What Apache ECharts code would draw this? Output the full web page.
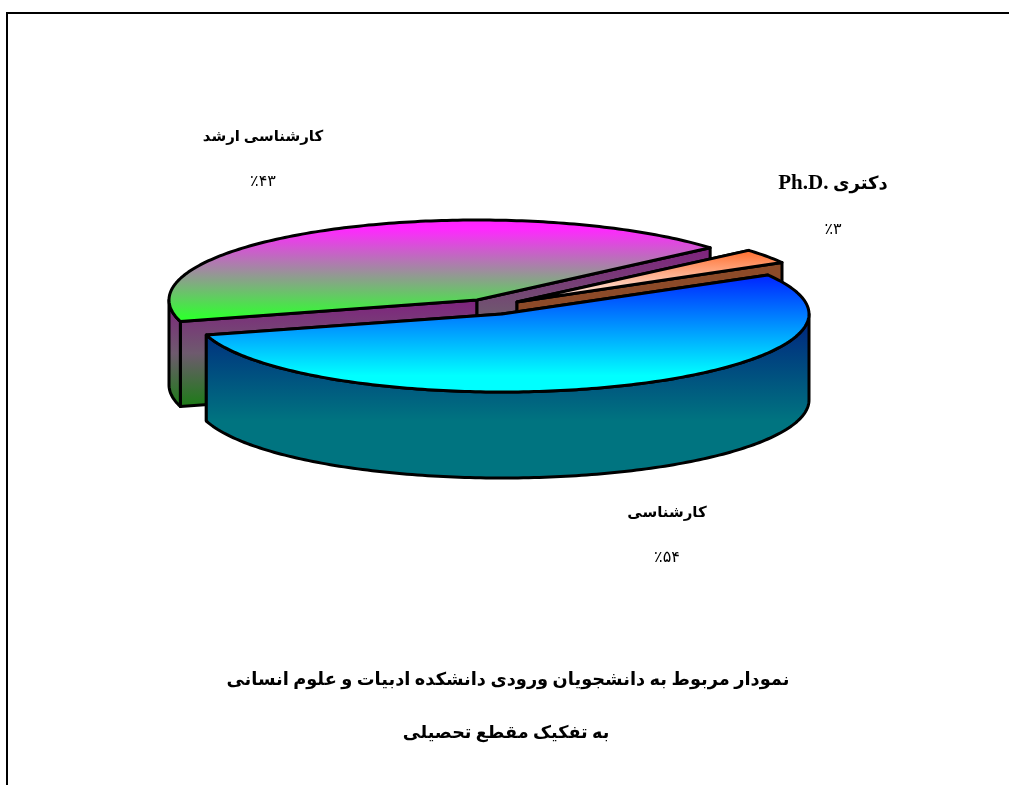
<!DOCTYPE html>
<html><head><meta charset="utf-8">
<style>html,body{margin:0;padding:0;background:#fff}#c{width:1009px;height:785px}</style>
<script src="https://cdn.jsdelivr.net/npm/echarts@6/dist/echarts.min.js"></script>
</head><body><div id="c"></div>
<script>
const categories = ['کارشناسی ارشد', 'Ph.D. دکتری', 'کارشناسی'];
const values = [43, 3, 54];
const percentLabels = ['٪۴۳', '٪۳', '٪۵۴'];
const titleLines = ['نمودار مربوط به دانشجویان ورودی دانشکده ادبیات و علوم انسانی', 'به تفکیک مقطع تحصیلی'];

const FONT = '"Liberation Serif","DejaVu Sans",serif';
const START = 164.4;
const layout = [
  {vx: 477, vy: 300, rx: 308, ry: 80, depth: 85, labelX: 263, labelY: 137, pctY: 182, labelSize: 15,
   top: [[0, '#ff20ff'], [0.1, '#ff28ff'], [0.95, '#30ff30'], [1, '#30ff30']],
   wall: [[0, '#80207f'], [0.5, '#6e5a6e'], [1, '#1a7d14']]},
  {vx: 517, vy: 302, rx: 306, ry: 79, depth: 85, labelX: 833, labelY: 184, pctY: 230, labelSize: 18,
   top: [[0, '#ff6a28'], [1, '#ffffff']],
   wall: [[0, '#8c4a28'], [1, '#8c4a28']]},
  {vx: 502, vy: 314, rx: 307, ry: 78, depth: 86, labelX: 667, labelY: 513, pctY: 558, labelSize: 15,
   top: [[0, '#0020ff'], [0.85, '#00ffff'], [1, '#00ffff']],
   wall: [[0, '#00207f'], [0.65, '#007480'], [1, '#007480']]}
];
const total = values.reduce((a, b) => a + b, 0);
const spans = values.map(v => v / total * 360);

function grad(stops) {
  return new echarts.graphic.LinearGradient(0, 0, 0, 1, stops.map(s => ({offset: s[0], color: s[1]})));
}
const stroke = {stroke: '#000', lineWidth: 3, lineJoin: 'round'};
function poly(points, fill) {
  return {type: 'polygon', shape: {points}, style: Object.assign({fill}, stroke)};
}
function renderItem(params) {
  const i = params.dataIndex, L = layout[i];
  let a0 = START;
  for (let k = 0; k < i; k++) a0 += spans[k];
  const a1 = a0 + spans[i];
  const pt = (deg, dy) => {
    const t = deg * Math.PI / 180;
    return [L.vx + L.rx * Math.cos(t), L.vy + L.ry * Math.sin(t) + (dy || 0)];
  };
  const rim = [];
  for (let d = a0; d < a1; d += 1) rim.push(pt(d));
  rim.push(pt(a1));
  const children = [];
  // cut faces
  [a0, a1].forEach(d => {
    const p = pt(d);
    children.push(poly([[L.vx, L.vy], p, [p[0], p[1] + L.depth], [L.vx, L.vy + L.depth]], grad(L.wall)));
  });
  // outer wall: only the part of the rim on the near side
  [[0, 180], [360, 540]].forEach(r => {
    const s = Math.max(a0, r[0]), e = Math.min(a1, r[1]);
    if (e <= s) return;
    const up = [], down = [];
    for (let d = s; d < e; d += 1) { up.push(pt(d)); down.unshift(pt(d, L.depth)); }
    up.push(pt(e)); down.unshift(pt(e, L.depth));
    children.push(poly(up.concat(down), grad(L.wall)));
  });
  // top face
  children.push(poly([[L.vx, L.vy]].concat(rim), grad(L.top)));
  // labels: Latin runs are set larger, as in the reference
  children.push({type: 'text', z2: 10, style: {
    text: categories[i].replace(/[A-Za-z.]+/, m => '{lat|' + m + '}'),
    x: L.labelX, y: L.labelY, align: 'center', verticalAlign: 'middle',
    fill: '#000', font: 'bold ' + L.labelSize + 'px ' + FONT,
    rich: {lat: {fontFamily: FONT, fontWeight: 'bold', fontSize: 21, fill: '#000'}}}});
  children.push({type: 'text', z2: 10, style: {text: percentLabels[i], x: L.labelX, y: L.pctY, align: 'center', verticalAlign: 'middle',
    fill: '#000', font: '16px ' + FONT}});
  return {type: 'group', children};
}
const chart = echarts.init(document.getElementById('c'), null, {renderer: 'canvas'});
chart.setOption({
  animation: false,
  backgroundColor: '#fff',
  title: [
    {text: titleLines[0], left: 503, top: 666, textAlign: 'center', textStyle: {fontFamily: FONT, fontWeight: 'bold', fontSize: 17.8, color: '#000'}},
    {text: titleLines[1], left: 501, top: 719, textAlign: 'center', textStyle: {fontFamily: FONT, fontWeight: 'bold', fontSize: 17.6, color: '#000'}}
  ],
  graphic: [{type: 'polyline', shape: {points: [[7, 785], [7, 13], [1009, 13]]}, style: {stroke: '#000', lineWidth: 2, fill: null}}],
  series: [{
    type: 'custom', coordinateSystem: 'none', silent: true, clip: false,
    renderItem,
    data: values.map((v, i) => ({name: categories[i], value: v}))
  }]
});
</script></body></html>
